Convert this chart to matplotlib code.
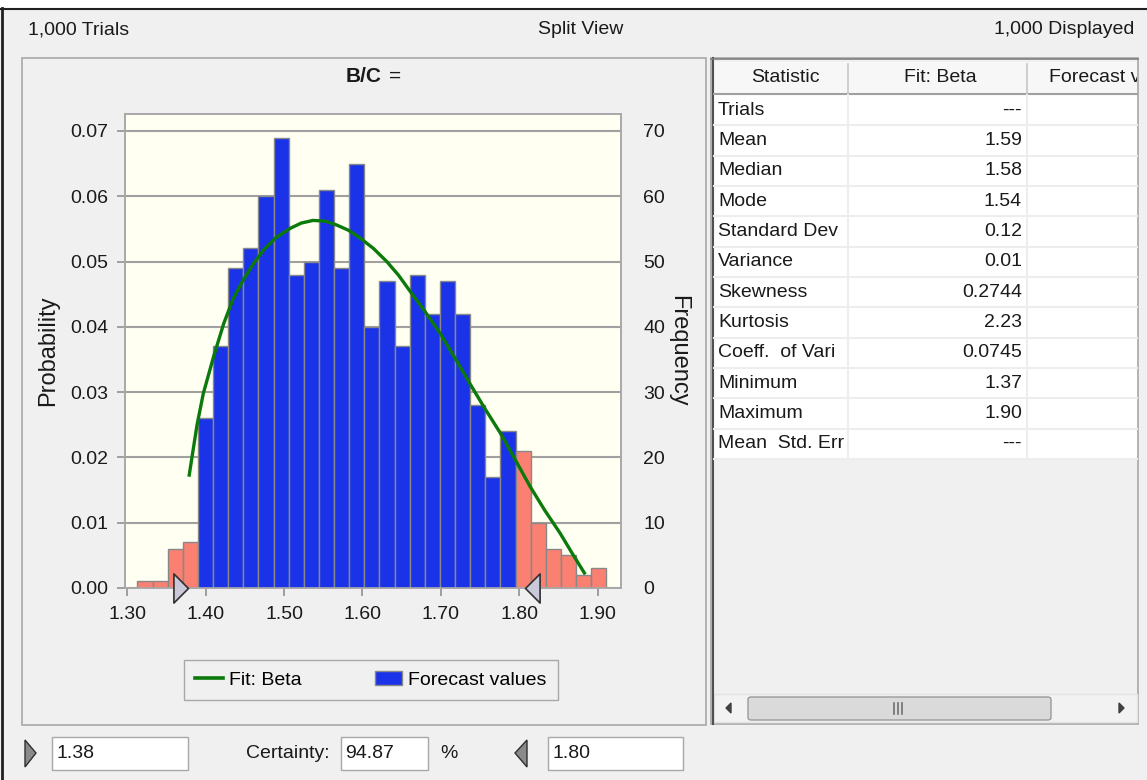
import numpy as np
import matplotlib
matplotlib.use("Agg")
import matplotlib.pyplot as plt
from matplotlib.patches import Rectangle, Polygon, Patch, FancyBboxPatch
from matplotlib.lines import Line2D
from matplotlib.path import Path

plt.rcParams['font.family'] = ['Liberation Sans', 'DejaVu Sans']

# --- data ---
counts = [1, 1, 6, 7, 26, 37, 49, 52, 60, 69, 48, 50, 61, 49, 65, 40, 47, 37,
          48, 42, 47, 42, 28, 17, 24, 21, 10, 6, 5, 2, 3]
bin_lo, bin_hi = 1.313, 1.911
grabbers = [1.377, 1.807]

fit_x = [1.379, 1.389, 1.397, 1.410, 1.423, 1.435, 1.448, 1.461, 1.474, 1.490,
         1.508, 1.522, 1.537, 1.552, 1.567, 1.582, 1.597, 1.614, 1.631, 1.646,
         1.661, 1.680, 1.699, 1.718, 1.737, 1.756, 1.776, 1.795, 1.814, 1.833,
         1.852, 1.867, 1.883]
fit_freq = [17.3, 25.0, 29.8, 35.4, 40.5, 44.3, 47.2, 49.7, 51.8, 53.7,
            55.1, 55.9, 56.3, 56.2, 55.6, 54.8, 53.6, 52.0, 50.0, 47.9,
            45.4, 42.3, 39.0, 35.2, 31.3, 27.5, 23.7, 19.6, 15.5, 11.8,
            8.4, 5.4, 2.3]

x_ticks = [1.30, 1.40, 1.50, 1.60, 1.70, 1.80, 1.90]
prob_ticks = [0.00, 0.01, 0.02, 0.03, 0.04, 0.05, 0.06, 0.07]
freq_ticks = [0, 10, 20, 30, 40, 50, 60, 70]

stat_names = ["Trials", "Mean", "Median", "Mode", "Standard Dev", "Variance",
              "Skewness", "Kurtosis", "Coeff.  of Vari", "Minimum", "Maximum",
              "Mean  Std. Err"]
fit_values = ["---", "1.59", "1.58", "1.54", "0.12", "0.01", "0.2744", "2.23",
              "0.0745", "1.37", "1.90", "---"]
table_headers = ["Statistic", "Fit: Beta", "Forecast values"]

lower_text, certainty_text, upper_text = "1.38", "94.87", "1.80"

# --- figure / pixel helpers ---
W, H = 1147, 780
fig = plt.figure(figsize=(W / 100, H / 100), dpi=100, facecolor='#F0F0F0')


def fx(x):
    return x / W


def fy(y):
    return 1 - y / H


def box(x0, y0, x1, y1, **kw):
    r = Rectangle((fx(x0), fy(y1)), fx(x1) - fx(x0), fy(y0) - fy(y1),
                  transform=fig.transFigure, **kw)
    fig.patches.append(r)
    return r


def hline(x0, x1, y, **kw):
    fig.add_artist(Line2D([fx(x0), fx(x1)], [fy(y), fy(y)], transform=fig.transFigure, **kw))


def vline(x, y0, y1, **kw):
    fig.add_artist(Line2D([fx(x), fx(x)], [fy(y0), fy(y1)], transform=fig.transFigure, **kw))


def label(x, y, s, **kw):
    kw.setdefault('fontsize', 14)
    kw.setdefault('color', '#1a1a1a')
    kw.setdefault('va', 'center')
    return fig.text(fx(x), fy(y), s, **kw)


# window frame
box(0, 0, W, 8, facecolor='white', edgecolor='none', zorder=-2)
hline(0, W, 8.5, color='#202020', lw=1.5)
vline(1.5, 8, H, color='#202020', lw=2)

# header line
label(28, 30, "1,000 Trials", ha='left')
label(581, 30, "Split View", ha='center')
label(1134, 30, "1,000 Displayed", ha='right')

# left panel
box(22, 58, 706, 725, facecolor='none', edgecolor='#A8A8A8', lw=1.2, zorder=-1)

# --- chart ---
ax = fig.add_axes([fx(125), fy(588), fx(621) - fx(125), fy(114) - fy(588)])
ax.set_facecolor('#FFFFF2')
ax2 = ax.twinx()
ax2.set_axisbelow(True)

edges = np.linspace(bin_lo, bin_hi, len(counts) + 1)
lefts = edges[:-1]
rights = edges[1:]
inside = (lefts >= grabbers[0]) & (rights <= grabbers[1])
bar_colors = np.where(inside, '#1A33E8', '#FA8072')
ax2.bar(lefts, counts, width=rights - lefts, align='edge', color=bar_colors,
        edgecolor='#888888', linewidth=1.0, zorder=2)
ax2.plot(fit_x, fit_freq, color='#0B7A0B', lw=2.4, zorder=3)

# grabber triangles
tri_r = Path([(-1, -1), (-1, 1), (0, 0), (-1, -1)], closed=True)
tri_l = Path([(1, -1), (1, 1), (0, 0), (1, -1)], closed=True)
ax2.plot([grabbers[0]], [0], marker=tri_r, markersize=21, markerfacecolor='#C9C9DA',
         markeredgecolor='#303030', markeredgewidth=1.2, clip_on=False, zorder=6)
ax2.plot([grabbers[1]], [0], marker=tri_l, markersize=21, markerfacecolor='#C9C9DA',
         markeredgecolor='#303030', markeredgewidth=1.2, clip_on=False, zorder=6)

ax.set_xlim(1.2971, 1.9297)
ax.set_ylim(0, 0.0726)
ax2.set_ylim(0, 72.6)
ax.set_xticks(x_ticks)
ax.set_xticklabels([f"{v:.2f}" for v in x_ticks])
ax.set_yticks(prob_ticks)
ax.set_yticklabels([f"{v:.2f}" for v in prob_ticks])
ax2.set_yticks(freq_ticks)
ax2.set_yticklabels([str(v) for v in freq_ticks])
ax2.yaxis.grid(True, color='#A0A0A0', lw=1.5)

for a in (ax, ax2):
    for s in a.spines.values():
        s.set_color('#A8A8A8')
        s.set_linewidth(1.2)
    a.tick_params(colors='#909090', labelcolor='#1a1a1a', labelsize=14, length=6, width=1.2)
ax.tick_params(axis='y', pad=6)
ax2.tick_params(axis='y', length=0, pad=16)
ax.tick_params(axis='x', pad=7)

ax.set_ylabel("Probability", fontsize=17, color='#1a1a1a', labelpad=8)
ax2.set_ylabel("Frequency", fontsize=17, color='#1a1a1a', rotation=270, labelpad=17)

# title
label(382, 77, "B/C", ha='right', fontsize=15, fontweight='bold')
label(389, 76, "=", ha='left', fontsize=15)

# legend
handles = [Line2D([], [], color='#0B7A0B', lw=2.6),
           Patch(facecolor='#1A33E8', edgecolor='#888888')]
fig.legend(handles, ["Fit: Beta", "Forecast values"], loc='center',
           bbox_to_anchor=(fx(371), fy(680)), ncol=2, fontsize=14,
           frameon=True, fancybox=False, edgecolor='#A8A8A8', facecolor='#F0F0F0',
           framealpha=1, handlelength=1.4, handletextpad=0.3, columnspacing=3.8,
           borderpad=0.6)

# --- statistics table ---
box(711, 58, 1138, 724, facecolor='#F0F0F0', edgecolor='#A8A8A8', lw=1.2, zorder=-1)
vline(712.5, 58, 724, color='#505050', lw=1.5)
hline(711, 1138, 59, color='#808080', lw=1.2)
box(714, 62, 1137, 93, facecolor='#F7F7F7', edgecolor='none', zorder=-1)
hline(714, 1137, 93.5, color='#A0A0A0', lw=1.5)
vline(848, 64, 93, color='#C8C8C8', lw=1.2)
vline(1027, 64, 93, color='#C8C8C8', lw=1.2)
label(785, 78, table_headers[0], ha='center')
label(940, 78, table_headers[1], ha='center')
hdr = label(1049, 78, table_headers[2], ha='left')
clip = box(1027, 60, 1137, 95, facecolor='none', edgecolor='none')
hdr.set_clip_path(clip)

row_top, row_h = 95, 30.33
for i, (name, val) in enumerate(zip(stat_names, fit_values)):
    y0 = row_top + i * row_h
    box(714, y0, 1137, y0 + row_h, facecolor='white', edgecolor='none', zorder=-1)
    hline(714, 1137, y0 + row_h, color='#EDEDED', lw=1.5)
    label(718, y0 + row_h / 2, name, ha='left')
    label(1022, y0 + row_h / 2, val, ha='right')
vline(848, row_top, row_top + len(stat_names) * row_h, color='#EDEDED', lw=1.5)
vline(1027, row_top, row_top + len(stat_names) * row_h, color='#EDEDED', lw=1.5)

# scroll bar
box(714, 694, 1137, 722, facecolor='#F2F2F2', edgecolor='#E4E4E4', lw=1, zorder=-1)
thumb = FancyBboxPatch((fx(748), fy(720)), fx(1051) - fx(748), fy(697) - fy(720),
                       boxstyle="round,pad=0,rounding_size=0.003",
                       transform=fig.transFigure, facecolor='#DADADA',
                       edgecolor='#9A9A9A', lw=1)
fig.patches.append(thumb)
for gx in (894, 898, 902):
    vline(gx, 703, 714, color='#707070', lw=1.2)
fig.patches.append(Polygon([(fx(726), fy(708)), (fx(731), fy(703)), (fx(731), fy(713))],
                           closed=True, transform=fig.transFigure, color='#404040'))
fig.patches.append(Polygon([(fx(1124), fy(708)), (fx(1119), fy(703)), (fx(1119), fy(713))],
                           closed=True, transform=fig.transFigure, color='#404040'))

# --- bottom controls ---
fig.patches.append(Polygon([(fx(25), fy(740)), (fx(36), fy(753)), (fx(25), fy(767))],
                           closed=True, transform=fig.transFigure,
                           facecolor='#8A8A8A', edgecolor='#303030', lw=1))
fig.patches.append(Polygon([(fx(527), fy(740)), (fx(515), fy(753)), (fx(527), fy(767))],
                           closed=True, transform=fig.transFigure,
                           facecolor='#8A8A8A', edgecolor='#303030', lw=1))
box(52, 737, 188, 770, facecolor='white', edgecolor='#A8A8A8', lw=1)
label(57, 753, lower_text, ha='left')
label(330, 753, "Certainty:", ha='right')
box(341, 737, 428, 770, facecolor='white', edgecolor='#A8A8A8', lw=1)
label(345, 753, certainty_text, ha='left')
label(440, 753, "%", ha='left')
box(548, 737, 683, 770, facecolor='white', edgecolor='#A8A8A8', lw=1)
label(552, 753, upper_text, ha='left')

fig.savefig("out.png", dpi=100, facecolor=fig.get_facecolor())
